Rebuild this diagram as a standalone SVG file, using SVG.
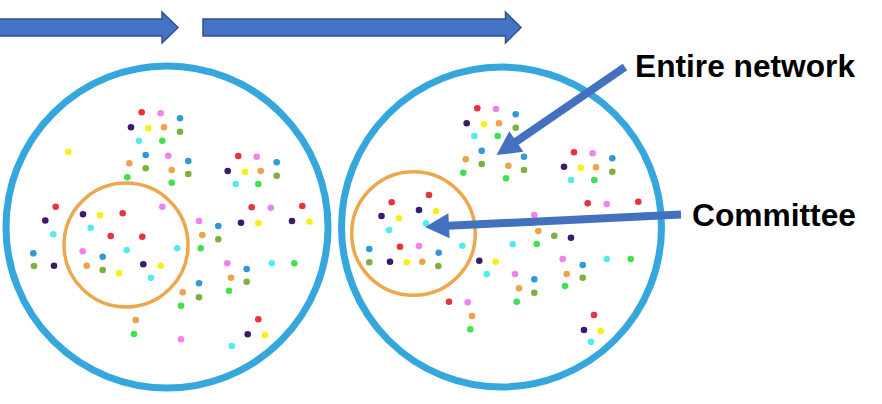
<svg xmlns="http://www.w3.org/2000/svg" width="882" height="404" viewBox="0 0 882 404">
<style>
.net{fill:none;stroke:#35a7dd;stroke-width:7}
.com{fill:none;stroke:#eca84c;stroke-width:3.5}
circle.d{}
.r{fill:#e8323c}.p{fill:#ee82ee}.b{fill:#3399d4}.k{fill:#3c1a6b}.y{fill:#f7ef1a}.o{fill:#eda24c}.g{fill:#7fb03f}.G{fill:#40e050}.c{fill:#55eaf0}
.lbl{font-family:"Liberation Sans",Arial,sans-serif;font-weight:bold;font-size:31px;fill:#000}
.step{fill:#4472c4;stroke:#2f528f;stroke-width:1.5}
.call{stroke:#4470c0;stroke-width:8;fill:none}
</style>
<defs>
<marker id="head" markerUnits="userSpaceOnUse" orient="auto" refX="0" refY="0" markerWidth="30" markerHeight="30" overflow="visible">
<path d="M-6,-12.5 L18,0 L-6,12.5 z" fill="#4470c0"/>
</marker>
</defs>
<rect width="882" height="404" fill="#fff"/>
<g id="step-arrows">
<polygon class="step" points="-2,19 162,19 162,12 178,27.5 162,43 162,36 -2,36"/>
<polygon class="step" points="203,19 505.5,19 505.5,12 521,27.5 505.5,43 505.5,36 203,36"/>
</g>
<g id="network-1">
<circle class="net" cx="167" cy="227" r="161"/>
<circle class="com" cx="126" cy="245" r="62"/>
<g id="dots-1">
<circle class="r" cx="141.7" cy="112.3" r="3.3"/>
<circle class="p" cx="160.7" cy="113.3" r="3.3"/>
<circle class="b" cx="180" cy="118.3" r="3.3"/>
<circle class="k" cx="131" cy="127.3" r="3.3"/>
<circle class="y" cx="148.3" cy="128.3" r="3.3"/>
<circle class="o" cx="164" cy="127.3" r="3.3"/>
<circle class="g" cx="180" cy="131.7" r="3.3"/>
<circle class="c" cx="139" cy="140.7" r="3.3"/>
<circle class="G" cx="162.3" cy="140.7" r="3.3"/>
<circle class="y" cx="68.3" cy="151.7" r="3.3"/>
<circle class="b" cx="145.7" cy="155" r="3.3"/>
<circle class="p" cx="168.3" cy="155.7" r="3.3"/>
<circle class="b" cx="188.3" cy="161" r="3.3"/>
<circle class="o" cx="129.3" cy="163.3" r="3.3"/>
<circle class="g" cx="145.7" cy="168.3" r="3.3"/>
<circle class="o" cx="171.7" cy="170" r="3.3"/>
<circle class="g" cx="188.3" cy="174" r="3.3"/>
<circle class="G" cx="127.3" cy="177.3" r="3.3"/>
<circle class="G" cx="171.7" cy="182.7" r="3.3"/>
<circle class="r" cx="238.3" cy="156" r="3.3"/>
<circle class="p" cx="256.7" cy="156.7" r="3.3"/>
<circle class="b" cx="276.7" cy="162.3" r="3.3"/>
<circle class="k" cx="227.7" cy="171" r="3.3"/>
<circle class="y" cx="245" cy="171.7" r="3.3"/>
<circle class="o" cx="260.7" cy="171" r="3.3"/>
<circle class="g" cx="276.7" cy="175.7" r="3.3"/>
<circle class="c" cx="235.7" cy="184" r="3.3"/>
<circle class="G" cx="258.3" cy="184" r="3.3"/>
<circle class="r" cx="251.7" cy="207.3" r="3.3"/>
<circle class="p" cx="270.7" cy="207.7" r="3.3"/>
<circle class="r" cx="302.3" cy="206" r="3.3"/>
<circle class="k" cx="241" cy="222.7" r="3.3"/>
<circle class="y" cx="258.3" cy="223.3" r="3.3"/>
<circle class="k" cx="292" cy="221" r="3.3"/>
<circle class="y" cx="309.5" cy="221.5" r="3.3"/>
<circle class="p" cx="199" cy="221" r="3.3"/>
<circle class="b" cx="218.3" cy="226" r="3.3"/>
<circle class="o" cx="202.3" cy="235" r="3.3"/>
<circle class="g" cx="218.3" cy="239.3" r="3.3"/>
<circle class="c" cx="177.3" cy="248.3" r="3.3"/>
<circle class="G" cx="200.7" cy="248.3" r="3.3"/>
<circle class="p" cx="227.3" cy="263.3" r="3.3"/>
<circle class="b" cx="246.7" cy="269" r="3.3"/>
<circle class="c" cx="271.7" cy="263.3" r="3.3"/>
<circle class="G" cx="294.3" cy="263.3" r="3.3"/>
<circle class="o" cx="231" cy="277.7" r="3.3"/>
<circle class="g" cx="246.7" cy="281.7" r="3.3"/>
<circle class="b" cx="199" cy="283.3" r="3.3"/>
<circle class="G" cx="229" cy="290.7" r="3.3"/>
<circle class="o" cx="182.7" cy="292.3" r="3.3"/>
<circle class="g" cx="199" cy="297.3" r="3.3"/>
<circle class="G" cx="181" cy="305.7" r="3.3"/>
<circle class="r" cx="258.3" cy="319.3" r="3.3"/>
<circle class="k" cx="247.7" cy="334.3" r="3.3"/>
<circle class="y" cx="265" cy="335.3" r="3.3"/>
<circle class="p" cx="181" cy="339.3" r="3.3"/>
<circle class="c" cx="231.7" cy="346" r="3.3"/>
<circle class="p" cx="162.3" cy="206.7" r="3.3"/>
<circle class="r" cx="55.7" cy="206.7" r="3.3"/>
<circle class="k" cx="83" cy="214.3" r="3.3"/>
<circle class="y" cx="100" cy="215.3" r="3.3"/>
<circle class="r" cx="122.7" cy="213.3" r="3.3"/>
<circle class="k" cx="45.3" cy="220.5" r="3.3"/>
<circle class="c" cx="90.7" cy="227.7" r="3.3"/>
<circle class="c" cx="53.3" cy="234.3" r="3.3"/>
<circle class="r" cx="110.7" cy="236" r="3.3"/>
<circle class="r" cx="142.3" cy="236.7" r="3.3"/>
<circle class="p" cx="82.7" cy="251.3" r="3.3"/>
<circle class="b" cx="102.7" cy="256.7" r="3.3"/>
<circle class="c" cx="126.7" cy="250" r="3.3"/>
<circle class="b" cx="33.3" cy="253.3" r="3.3"/>
<circle class="g" cx="34" cy="266" r="3.3"/>
<circle class="k" cx="54" cy="265.7" r="3.3"/>
<circle class="o" cx="86.7" cy="265.7" r="3.3"/>
<circle class="g" cx="102.7" cy="270" r="3.3"/>
<circle class="y" cx="119" cy="273.3" r="3.3"/>
<circle class="k" cx="143.3" cy="264.3" r="3.3"/>
<circle class="y" cx="160.7" cy="265.7" r="3.3"/>
<circle class="c" cx="151" cy="277.7" r="3.3"/>
<circle class="o" cx="135.7" cy="320" r="3.3"/>
<circle class="G" cx="134" cy="334" r="3.3"/>
</g>
</g>
<g id="network-2">
<circle class="net" cx="501.5" cy="227" r="160"/>
<circle class="com" cx="413.5" cy="233.5" r="61.8"/>
<g id="dots-2">
<circle class="r" cx="477.3" cy="108.3" r="3.3"/>
<circle class="p" cx="496" cy="109" r="3.3"/>
<circle class="b" cx="515.7" cy="114.3" r="3.3"/>
<circle class="k" cx="466.7" cy="123.3" r="3.3"/>
<circle class="y" cx="484" cy="124.3" r="3.3"/>
<circle class="o" cx="499" cy="123.3" r="3.3"/>
<circle class="g" cx="515.7" cy="127.7" r="3.3"/>
<circle class="c" cx="474.3" cy="136" r="3.3"/>
<circle class="G" cx="497.7" cy="136" r="3.3"/>
<circle class="b" cx="481.7" cy="150.7" r="3.3"/>
<circle class="o" cx="465.7" cy="159.3" r="3.3"/>
<circle class="g" cx="481.7" cy="164" r="3.3"/>
<circle class="G" cx="463.3" cy="172.7" r="3.3"/>
<circle class="b" cx="524" cy="156.7" r="3.3"/>
<circle class="o" cx="508.3" cy="165.7" r="3.3"/>
<circle class="g" cx="524" cy="170" r="3.3"/>
<circle class="G" cx="506" cy="178.3" r="3.3"/>
<circle class="r" cx="574" cy="152.3" r="3.3"/>
<circle class="p" cx="592.7" cy="153.3" r="3.3"/>
<circle class="b" cx="612.3" cy="158.3" r="3.3"/>
<circle class="k" cx="564" cy="166.7" r="3.3"/>
<circle class="y" cx="580.7" cy="167.7" r="3.3"/>
<circle class="o" cx="596" cy="167.3" r="3.3"/>
<circle class="g" cx="612.3" cy="171.7" r="3.3"/>
<circle class="c" cx="571" cy="180" r="3.3"/>
<circle class="G" cx="594.3" cy="180" r="3.3"/>
<circle class="r" cx="587.7" cy="203.3" r="3.3"/>
<circle class="p" cx="606.7" cy="204" r="3.3"/>
<circle class="r" cx="638.3" cy="201.7" r="3.3"/>
<circle class="p" cx="534.3" cy="215" r="3.3"/>
<circle class="r" cx="429" cy="195" r="3.3"/>
<circle class="r" cx="391.7" cy="202.3" r="3.3"/>
<circle class="k" cx="419" cy="210" r="3.3"/>
<circle class="y" cx="436" cy="211.3" r="3.3"/>
<circle class="k" cx="381.5" cy="216" r="3.3"/>
<circle class="y" cx="399" cy="218.3" r="3.3"/>
<circle class="c" cx="426" cy="223.3" r="3.3"/>
<circle class="c" cx="389" cy="230" r="3.3"/>
<circle class="r" cx="400" cy="246.7" r="3.3"/>
<circle class="p" cx="419" cy="246" r="3.3"/>
<circle class="b" cx="369.3" cy="249" r="3.3"/>
<circle class="b" cx="438.7" cy="252.7" r="3.3"/>
<circle class="c" cx="462.3" cy="245.7" r="3.3"/>
<circle class="g" cx="369.3" cy="262.3" r="3.3"/>
<circle class="k" cx="390" cy="261.7" r="3.3"/>
<circle class="y" cx="406.7" cy="262.3" r="3.3"/>
<circle class="o" cx="422.3" cy="261.7" r="3.3"/>
<circle class="g" cx="438.3" cy="266" r="3.3"/>
<circle class="k" cx="479.3" cy="260.7" r="3.3"/>
<circle class="y" cx="495.7" cy="261.7" r="3.3"/>
<circle class="c" cx="486.7" cy="274" r="3.3"/>
<circle class="r" cx="449" cy="301.7" r="3.3"/>
<circle class="p" cx="467.7" cy="302.3" r="3.3"/>
<circle class="o" cx="472" cy="316" r="3.3"/>
<circle class="G" cx="470.3" cy="329.3" r="3.3"/>
<circle class="o" cx="538.3" cy="231" r="3.3"/>
<circle class="g" cx="554.3" cy="235.7" r="3.3"/>
<circle class="k" cx="571" cy="237.7" r="3.3"/>
<circle class="c" cx="512.7" cy="244.3" r="3.3"/>
<circle class="G" cx="536.7" cy="244" r="3.3"/>
<circle class="p" cx="562.7" cy="259" r="3.3"/>
<circle class="b" cx="582.7" cy="265" r="3.3"/>
<circle class="c" cx="606.7" cy="259" r="3.3"/>
<circle class="G" cx="630.7" cy="259" r="3.3"/>
<circle class="p" cx="515" cy="274" r="3.3"/>
<circle class="b" cx="534.3" cy="279.3" r="3.3"/>
<circle class="o" cx="566.7" cy="274" r="3.3"/>
<circle class="g" cx="582.7" cy="277.7" r="3.3"/>
<circle class="o" cx="519" cy="288.3" r="3.3"/>
<circle class="g" cx="534.3" cy="292.7" r="3.3"/>
<circle class="G" cx="565" cy="286" r="3.3"/>
<circle class="G" cx="516.7" cy="301.7" r="3.3"/>
<circle class="r" cx="594" cy="315" r="3.3"/>
<circle class="k" cx="584" cy="330" r="3.3"/>
<circle class="y" cx="600.7" cy="331" r="3.3"/>
<circle class="c" cx="591" cy="341.7" r="3.3"/>
</g>
</g>
<g id="label-entire-network">
<text class="lbl" x="635" y="77" textLength="220" lengthAdjust="spacingAndGlyphs">Entire network</text>
</g>
<g id="label-committee">
<text class="lbl" x="692" y="225.5" textLength="164" lengthAdjust="spacingAndGlyphs">Committee</text>
</g>
<g id="connectors">
<line class="call" x1="625" y1="67" x2="511.4" y2="144.9" marker-end="url(#head)"/>
<line class="call" x1="681" y1="214.5" x2="443" y2="226.1" marker-end="url(#head)"/>
</g>
</svg>
